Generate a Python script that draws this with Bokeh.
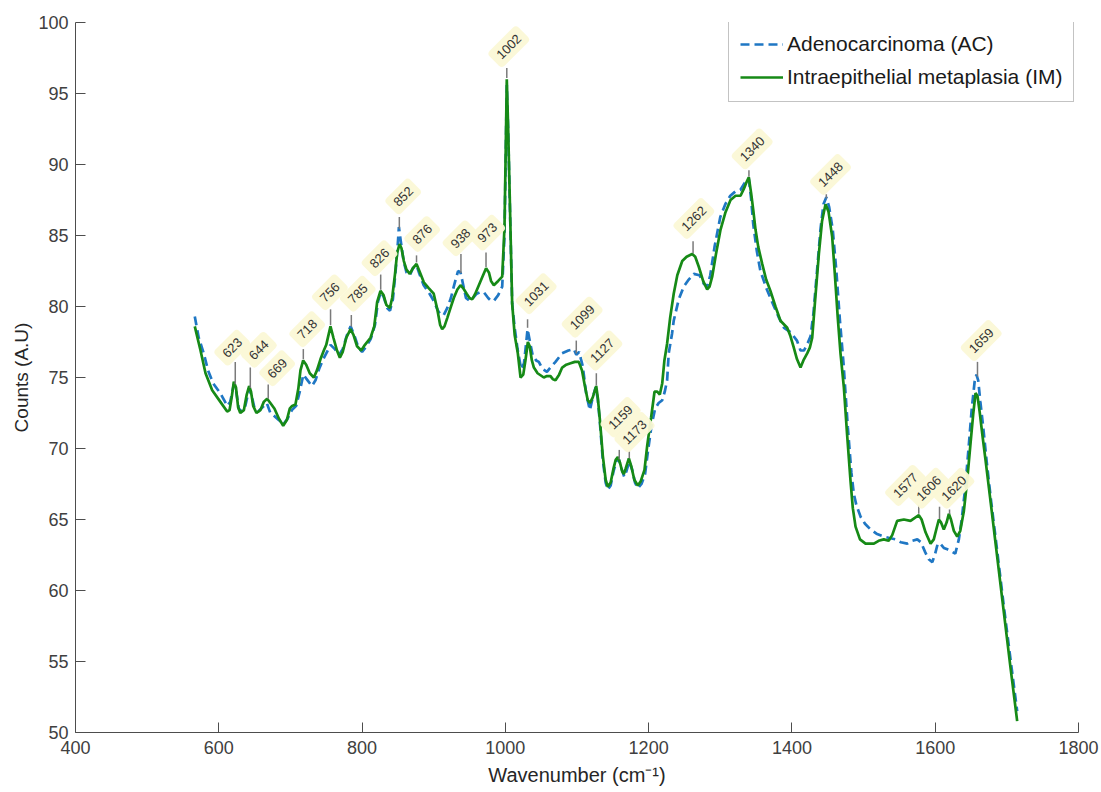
import numpy as np
from bokeh.plotting import figure
from bokeh.models import Range1d, ColumnDataSource, Legend, LegendItem, FixedTicker
from bokeh.core.properties import value
from bokeh.embed import file_html
from bokeh.resources import INLINE

# ---------------- data ----------------
wn_im = [566.5, 574.5, 581.5, 590.8, 602, 611.7, 615, 618, 621, 624, 627, 630, 635, 639, 642.4, 645, 648,
         652.6, 658, 663, 667.5, 672, 677.8, 684, 689.9, 695, 699, 702.4, 707, 711, 714, 717.8, 722, 727,
         732.7, 737, 742, 746.6, 750, 755.9, 760, 765, 769, 773, 778, 783.9, 788, 793, 798.8, 804, 811.8,
         817, 821, 825.7, 830, 834, 838.8, 842, 846, 849, 852.3, 855, 858.3, 862, 866.6, 871, 876, 880,
         886.2, 893, 900, 905, 909, 911.8, 915, 919, 923.5, 928, 933, 937.4, 941, 946, 950, 953.7, 958,
         963, 968, 973.1, 977, 980, 983.9, 990, 995.6, 998.8, 1000.5, 1002, 1004, 1006, 1009.5, 1013,
         1017.4, 1021.2, 1025, 1028, 1031.4, 1034, 1037, 1039.8, 1045, 1053.7, 1058, 1063, 1066, 1070,
         1075, 1079.3, 1085, 1091, 1097, 1102.5, 1107, 1111, 1115, 1118, 1122, 1126.8, 1129, 1132, 1136,
         1140, 1143, 1147, 1151, 1154, 1157, 1160, 1163, 1165.4, 1168, 1172.4, 1176, 1180, 1184.9, 1189,
         1194.2, 1198, 1203.5, 1208.2, 1212, 1215.6, 1219, 1222, 1225.8, 1230, 1235, 1240, 1246.9, 1253,
         1260.8, 1265, 1270, 1276, 1281.7, 1285, 1288.7, 1294, 1300.3, 1307, 1314.3, 1321.3, 1328.3, 1333,
         1337, 1339.8, 1343, 1346, 1349.2, 1353, 1358.5, 1364, 1370, 1377, 1384, 1393.4, 1398, 1402.6,
         1407, 1412, 1416, 1421.3, 1425, 1428.3, 1432, 1437.6, 1442, 1446.9, 1451, 1456.2, 1460, 1464,
         1467.8, 1472.5, 1477, 1481.8, 1485, 1488.8, 1495, 1502.7, 1508, 1514.4, 1521, 1528.3, 1535, 1540,
         1546.9, 1556.2, 1565.5, 1571, 1577.1, 1581, 1586.5, 1593.5, 1598, 1602, 1605.1, 1608, 1612, 1616,
         1619, 1622, 1626, 1630.7, 1635, 1640, 1644.7, 1649, 1653, 1656.3, 1659, 1662, 1666, 1670.2,
         1677.2, 1685, 1695, 1705, 1714.4]
counts_im = [78.6, 76.9, 75.3, 74.1, 73.3, 72.6, 72.7, 73.6, 74.7, 74.3, 72.9, 72.5, 72.7, 73.8, 74.4, 74.0,
             73.0, 72.5, 72.7, 73.3, 73.5, 73.2, 72.8, 72.1, 71.6, 72.0, 72.8, 73.0, 73.1, 74.2, 75.5, 76.2,
             75.9, 75.3, 75.0, 75.5, 76.3, 76.9, 77.3, 78.6, 77.8, 76.9, 76.4, 76.8, 77.8, 78.4, 78.0, 77.2,
             76.9, 77.3, 77.8, 78.6, 80.3, 81.1, 80.8, 80.1, 79.9, 80.6, 82.3, 83.8, 84.4, 84.1, 83.2, 82.6,
             82.3, 82.7, 83.0, 82.5, 81.7, 81.3, 80.9, 79.8, 78.7, 78.4, 78.6, 79.2, 79.9, 80.6, 81.2, 81.5,
             81.3, 80.9, 80.6, 80.5, 80.9, 81.5, 82.1, 82.7, 82.4, 81.8, 81.5, 81.8, 82.1, 85.6, 91.0, 96.0,
             92.4, 88.0, 80.2, 78.0, 76.7, 75.0, 75.2, 76.2, 77.5, 77.2, 76.2, 75.7, 75.3, 75.0, 75.1, 75.1,
             74.9, 74.8, 75.2, 75.7, 75.9, 76.0, 76.1, 76.1, 75.5, 74.4, 73.4, 73.2, 73.6, 74.4, 73.6, 72.0,
             69.5, 67.8, 67.3, 67.6, 68.6, 69.2, 69.4, 69.0, 68.4, 68.2, 68.6, 69.3, 68.7, 67.8, 67.4, 67.7,
             68.5, 70.2, 72.2, 74.0, 74.0, 73.8, 74.6, 76.2, 77.4, 79.2, 80.9, 82.2, 83.2, 83.5, 83.7, 83.5,
             82.8, 81.8, 81.2, 81.4, 82.1, 83.7, 85.4, 86.6, 87.5, 87.8, 87.8, 88.3, 88.8, 89.1, 88.0, 86.8,
             85.4, 84.2, 83.0, 81.9, 81.1, 80.0, 79.0, 78.5, 77.9, 77.1, 76.3, 75.7, 76.2, 76.7, 77.1, 77.8,
             80.2, 83.7, 86.0, 87.2, 86.7, 84.9, 82.2, 79.2, 76.7, 74.3, 71.0, 67.7, 65.8, 64.5, 63.6, 63.3,
             63.3, 63.3, 63.5, 63.6, 63.5, 63.9, 64.9, 65.0, 64.9, 65.1, 65.3, 65.0, 64.1, 63.3, 63.6, 64.4,
             65.0, 64.8, 64.3, 64.8, 65.4, 65.0, 64.2, 63.8, 64.2, 65.6, 67.8, 70.2, 72.4, 73.9, 73.7, 72.6,
             70.9, 69.2, 66.3, 63.0, 58.8, 54.6, 50.8]

wn_ac = [566.5, 572, 579, 585, 592, 602, 612, 616, 621, 624, 628, 632, 637, 642.4, 646, 650, 655, 661, 667,
         672, 677, 684, 690, 696, 702, 708, 713, 718, 724, 730, 735, 740, 746, 752, 756, 762, 768, 773, 779,
         784, 789, 795, 800, 806, 812, 818, 822, 826, 830, 835, 839, 843, 847, 850, 851.4, 854, 858, 862,
         866.6, 871, 876, 880, 886, 893, 900, 906, 910, 914, 919, 924, 929, 934, 937.4, 940, 945, 950, 955,
         960, 965, 970, 976, 980, 984, 990, 995.6, 998.8, 1000.5, 1002, 1004, 1006, 1009.5, 1013, 1017, 1022,
         1026, 1029, 1031, 1034, 1038, 1043, 1046.7, 1052, 1058, 1063, 1070, 1079, 1088, 1095.6, 1099, 1103,
         1108, 1113, 1118, 1122, 1126, 1129, 1132, 1136, 1140, 1143, 1147, 1151, 1155, 1158, 1162, 1166,
         1169, 1173, 1177, 1181, 1185, 1190, 1195, 1199, 1204, 1209, 1214, 1219, 1222.5, 1225.8, 1228,
         1232.7, 1235, 1242, 1249, 1256, 1263, 1271, 1277, 1281.7, 1286, 1292, 1300, 1307, 1314, 1321, 1328,
         1334, 1339.8, 1343, 1346, 1351, 1356, 1365, 1375, 1382, 1389, 1398, 1407, 1412, 1416.7, 1421, 1426,
         1430, 1435, 1440, 1444, 1448, 1452, 1457, 1462, 1467, 1472, 1478, 1483, 1486.4, 1490, 1495.8, 1502,
         1509.7, 1518, 1528, 1536, 1544.6, 1552, 1561, 1568, 1575, 1580, 1586, 1591, 1596, 1600, 1603.5,
         1607, 1612, 1617, 1621, 1628, 1633, 1637, 1642, 1647, 1651, 1655, 1657.5, 1660, 1663, 1667, 1672,
         1678, 1686, 1696, 1706, 1714.4]
counts_ac = [79.3, 77.8, 76.7, 75.5, 74.6, 73.9, 73.0, 73.3, 74.5, 74.1, 72.8, 72.6, 73.0, 74.2, 73.7, 72.8,
             72.6, 72.9, 73.2, 72.5, 72.3, 72.0, 71.7, 72.1, 72.7, 73.0, 74.0, 75.2, 74.8, 74.4, 74.8, 75.6,
             76.3, 76.9, 77.3, 77.0, 76.6, 77.0, 78.0, 78.6, 78.0, 77.1, 76.8, 77.2, 77.7, 78.7, 80.3, 81.0,
             80.7, 79.9, 79.7, 80.5, 82.6, 84.5, 85.6, 84.6, 83.2, 82.4, 82.2, 82.7, 82.9, 82.3, 81.5, 81.0,
             80.4, 79.7, 79.4, 79.4, 79.9, 80.6, 81.6, 82.5, 82.4, 81.8, 80.6, 80.4, 80.6, 80.9, 81.0, 81.0,
             80.6, 80.4, 80.4, 80.8, 81.4, 85.0, 90.5, 95.6, 92.2, 87.8, 80.2, 78.5, 77.0, 75.6, 76.0, 77.4,
             78.4, 77.6, 76.6, 76.2, 76.1, 75.6, 75.4, 75.7, 76.1, 76.7, 76.9, 77.0, 76.6, 76.8, 75.8, 73.8,
             72.7, 73.6, 74.3, 73.5, 71.8, 69.2, 67.6, 67.1, 67.4, 68.4, 69.1, 69.3, 68.6, 68.0, 68.4, 69.1,
             68.5, 67.6, 67.2, 67.5, 68.2, 69.8, 71.6, 72.8, 73.2, 73.4, 74.0, 74.8, 76.7, 78.1, 79.0, 80.5,
             81.4, 81.9, 82.3, 82.2, 81.6, 81.4, 82.2, 84.2, 86.3, 87.2, 87.8, 88.1, 88.2, 88.7, 89.0, 87.6,
             85.8, 83.9, 82.5, 81.2, 80.0, 79.2, 78.5, 78.2, 77.6, 76.9, 76.9, 77.3, 77.9, 79.5, 82.5, 85.5,
             87.2, 87.7, 87.0, 85.4, 82.5, 79.0, 76.0, 71.5, 68.3, 66.8, 66.0, 65.2, 64.7, 64.3, 64.0, 63.8,
             63.7, 63.6, 63.4, 63.3, 63.5, 63.6, 63.4, 62.7, 62.2, 62.0, 62.6, 63.3, 63.3, 63.0, 62.9, 62.8,
             62.6, 63.6, 65.0, 67.3, 70.3, 72.8, 74.7, 75.2, 74.8, 73.3, 71.5, 69.0, 66.3, 63.0, 58.8, 54.8,
             51.5]

peak_labels = ["623", "644", "669", "718", "756", "785", "826", "852", "876", "938", "973", "1002",
               "1031", "1099", "1127", "1159", "1173", "1262", "1340", "1448", "1577", "1606", "1620", "1659"]
label_x = [618.7, 655.9, 681.5, 723.4, 755, 794, 824.3, 857.4, 883.9, 937.4, 974.7, 1004.8,
           1043, 1107.2, 1135.2, 1160.8, 1180.3, 1263.1, 1344.5, 1453.9, 1558.6, 1591, 1626, 1664.2]
label_y = [77.1, 76.95, 75.65, 78.4, 81.0, 80.9, 83.4, 87.75, 85.1, 84.8, 85.2, 98.3,
           80.9, 79.25, 76.9, 72.2, 71.15, 86.2, 91.1, 89.3, 67.4, 67.2, 67.2, 77.6]
stem_top = [76.1, 75.7, 74.5, 77.0, 79.8, 79.4, 82.25, 86.3, 83.6, 83.7, 83.8, 96.8,
            79.1, 77.6, 75.3, 69.9, 69.85, 84.6, 89.6, 87.9, 66.0, 65.9, 65.7, 76.1]

x_ticks = [400, 600, 800, 1000, 1200, 1400, 1600, 1800]
y_ticks = [50, 55, 60, 65, 70, 75, 80, 85, 90, 95, 100]

# ---------------- figure ----------------
FONT = "Liberation Sans"
p = figure(width=1101, height=792, output_backend="svg", toolbar_location=None,
           x_range=Range1d(400, 1800), y_range=Range1d(50, 100),
           min_border_left=75, min_border_top=22, min_border_right=23, min_border_bottom=60)
p.outline_line_color = None
p.xgrid.visible = False
p.ygrid.visible = False
p.background_fill_color = "white"
p.border_fill_color = "white"

for ax in (p.xaxis[0], p.yaxis[0]):
    ax.axis_line_color = "#4d4d4d"
    ax.major_tick_line_color = "#4d4d4d"
    ax.major_tick_in = 10
    ax.major_tick_out = 0
    ax.minor_tick_line_color = None
    ax.major_label_text_font = FONT
    ax.major_label_text_font_size = "18px"
    ax.major_label_text_color = "#404040"
    ax.axis_label_text_font = FONT
    ax.axis_label_text_font_size = "19px"
    ax.axis_label_text_font_style = "normal"
    ax.axis_label_text_color = "#262626"

p.xaxis.ticker = FixedTicker(ticks=x_ticks)
p.yaxis.ticker = FixedTicker(ticks=y_ticks)
p.xaxis.axis_label = "Wavenumber (cm\u207b\u00b9)"
p.yaxis.axis_label = "Counts (A.U)"
p.xaxis.axis_label_text_font_size = "20px"
p.xaxis.major_label_standoff = 8
p.yaxis.major_label_standoff = 7
p.xaxis.axis_label_standoff = 7
p.yaxis.axis_label_standoff = 3

r_ac = p.line(wn_ac, counts_ac, line_color="#1f77c4", line_width=2.7, line_dash="9 5")
r_im = p.line(wn_im, counts_im, line_color="#168a16", line_width=2.7)

# stems
wn_num = np.array([float(s) for s in peak_labels])
bottom = np.maximum(np.interp(wn_num, wn_ac, counts_ac), np.interp(wn_num, wn_im, counts_im)) + 0.1
bottom = np.minimum(bottom, np.array(stem_top) - 0.3)
p.segment(x0=wn_num, y0=bottom, x1=wn_num, y1=stem_top, line_color="#7a7a7a", line_width=1.5)

src = ColumnDataSource(dict(x=label_x, y=label_y, text=peak_labels))
p.text(x="x", y="y", text="text", source=src, angle=np.pi / 4,
       text_align="center", text_baseline="middle",
       text_font=value(FONT), text_font_size="13px", text_color="#333333",
       background_fill_color="#fbf8d6", background_fill_alpha=0.95,
       padding=6, border_radius=4)

legend = Legend(items=[LegendItem(label="Adenocarcinoma (AC)", renderers=[r_ac]),
                       LegendItem(label="Intraepithelial metaplasia (IM)", renderers=[r_im])],
                location=(653, 630))
legend.label_text_font = FONT
legend.label_text_font_size = "21px"
legend.label_text_color = "#1a1a1a"
legend.glyph_width = 43
legend.glyph_height = 26
legend.label_height = 26
legend.label_standoff = 4
legend.spacing = 7
legend.padding = 11
legend.margin = 0
legend.border_line_color = "#888888"
legend.border_line_width = 1
legend.background_fill_alpha = 1
p.add_layout(legend)

open("out.html", "w").write(file_html(p, INLINE))
